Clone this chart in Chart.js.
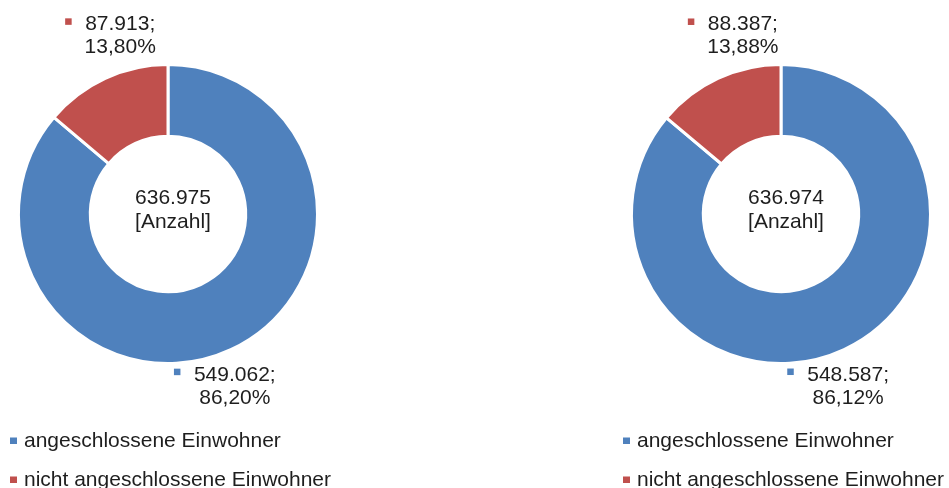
<!DOCTYPE html>
<html lang="de">
<head>
<meta charset="utf-8">
<script src="https://cdn.jsdelivr.net/npm/chart.js@4.4.1/dist/chart.umd.min.js"></script>
<style>
    body { margin: 0; background: #fff; width: 949px; height: 488px; overflow: hidden; position: relative; }
    .panel { position: absolute; top: 0; width: 336px; height: 488px; }
</style>
</head>
<body>
<div class="panel" style="left:0"><canvas id="chart-left"></canvas></div>
<div class="panel" style="left:613px"><canvas id="chart-right"></canvas></div>
<script>
const categories = ["angeschlossene Einwohner", "nicht angeschlossene Einwohner"];
const leftValues = [549062, 87913];
const rightValues = [548587, 88387];
const centerUnit = "[Anzahl]";

const sliceColors = ["#4f81bd", "#c0504d"];
const textColor = "#1e1e1e";
const fontFamily = "'Liberation Sans', Arial, sans-serif";

function formatNumber(value) {
    return String(Math.round(value)).replace(/\B(?=(\d{3})+(?!\d))/g, ".");
}

function formatPercent(value, total) {
    return (value / total * 100).toFixed(2).replace(".", ",") + "%";
}

// label offsets relative to the outer edge of each slice at its mid angle
const doughnutLabels = {
    id: "doughnutLabels",
    afterDraw(chart, args, opts) {
        const ctx = chart.ctx;
        const meta = chart.getDatasetMeta(0);
        const values = chart.data.datasets[0].data;
        const total = values.reduce((sum, v) => sum + v, 0);
        ctx.save();
        ctx.font = `21px ${fontFamily}`;
        ctx.fillStyle = textColor;
        ctx.textBaseline = "alphabetic";

        meta.data.forEach((arc, i) => {
            const { x, y, startAngle, endAngle, outerRadius } = arc.getProps(["x", "y", "startAngle", "endAngle", "outerRadius"], true);
            const mid = (startAngle + endAngle) / 2;
            const ax = x + Math.cos(mid) * outerRadius;
            const ay = y + Math.sin(mid) * outerRadius;
            const off = opts.offsets[i];
            const tx = ax + off.dx;
            const base = ay + off.dy;
            const line1 = formatNumber(values[i]) + ";";
            const line2 = formatPercent(values[i], total);
            ctx.textAlign = "center";
            ctx.fillText(line1, tx, base);
            ctx.fillText(line2, tx, base + 23);
            const left = tx - ctx.measureText(line1).width / 2;
            ctx.fillStyle = sliceColors[i];
            ctx.fillRect(left - 20, base - 12, 6.5, 6.5);
            ctx.fillStyle = textColor;
        });

        const first = meta.data[0];
        ctx.textAlign = "center";
        ctx.fillText(formatNumber(total), first.x + 5, first.y - 10);
        ctx.fillText(centerUnit, first.x + 5, first.y + 14);

        ctx.textAlign = "left";
        categories.forEach((label, i) => {
            const base = 447 + i * 39;
            ctx.fillStyle = sliceColors[i];
            ctx.fillRect(10, base - 9.5, 7, 6.5);
            ctx.fillStyle = textColor;
            ctx.fillText(label, 24, base);
        });
        ctx.restore();
    }
};

function makeChart(canvasId, values, offsets) {
    return new Chart(document.getElementById(canvasId), {
        type: "doughnut",
        data: {
            labels: categories,
            datasets: [{ data: values, backgroundColor: sliceColors, borderColor: "#ffffff", borderWidth: 3, hoverOffset: 0 }]
        },
        options: {
            responsive: false,
            animation: false,
            cutout: "52%",
            layout: { padding: { top: 63, bottom: 123, left: 17, right: 17 } },
            events: [],
            plugins: { legend: { display: false }, tooltip: { enabled: false }, doughnutLabels: { offsets } }
        },
        plugins: [doughnutLabels]
    });
}

for (const id of ["chart-left", "chart-right"]) {
    const c = document.getElementById(id);
    c.width = 336;
    c.height = 488;
}

makeChart("chart-left", leftValues, [{ dx: 4, dy: 31 }, { dx: 15, dy: -48 }]);
makeChart("chart-right", rightValues, [{ dx: 4, dy: 31 }, { dx: 25, dy: -48 }]);
</script>
</body>
</html>
